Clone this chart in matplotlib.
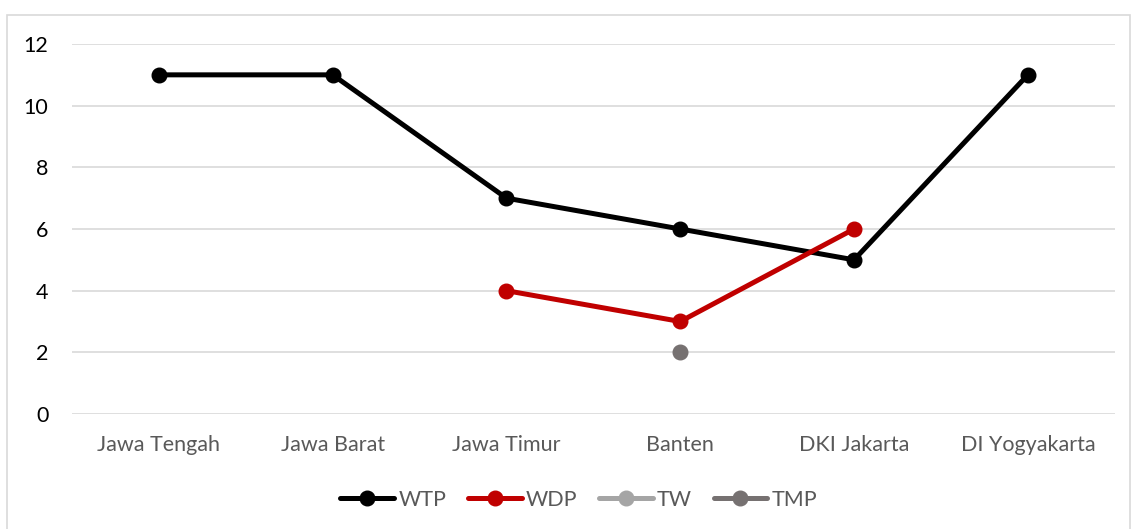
import matplotlib
matplotlib.use('Agg')
import matplotlib.pyplot as plt
import numpy as np
from matplotlib.patches import Rectangle

nan = np.nan

# data
provinces = ['Jawa Tengah', 'Jawa Barat', 'Jawa Timur', 'Banten', 'DKI Jakarta', 'DI Yogyakarta']
wtp = [11, 11, 7, 6, 5, 11]
wdp = [nan, nan, 4, 3, 6, nan]
tw = [nan, nan, nan, nan, nan, nan]
tmp = [nan, nan, nan, 2, nan, nan]

series_names = ['WTP', 'WDP', 'TW', 'TMP']
series_colors = ['#000000', '#C00000', '#A5A5A5', '#767171']

plt.rcParams['font.family'] = ['Lato', 'DejaVu Sans']

fig = plt.figure(figsize=(11.34, 5.29), dpi=100)
ax = fig.add_axes([0.0635, 0.2174, 0.9195, 0.6994])

# light frame around the whole chart
fig.patches.append(Rectangle((7 / 1134, -0.01), 1123 / 1134, 1 - 15 / 529 + 0.01,
                             transform=fig.transFigure, fill=False,
                             edgecolor='#D9D9D9', linewidth=1.2))

x = np.arange(len(provinces))
for vals, name, col in zip([wtp, wdp, tw, tmp], series_names, series_colors):
    ax.plot(x, vals, color=col, linewidth=3.6, marker='o', markersize=10.5,
            label=name, solid_capstyle='round', zorder=3)

ax.set_xlim(-0.5, len(provinces) - 0.5)
ax.set_ylim(0, 12)
ax.set_yticks(range(0, 13, 2))
ax.set_xticks(x)
ax.set_xticklabels(provinces)
ax.yaxis.grid(True, color='#D9D9D9', linewidth=1.2)
ax.set_axisbelow(True)
for s in ax.spines.values():
    s.set_visible(False)
ax.tick_params(axis='both', length=0, labelsize=15.5, labelcolor='#595959')
ax.tick_params(axis='x', pad=15)
ax.tick_params(axis='y', pad=17)
for lbl in ax.get_yticklabels():
    lbl.set_color('#000000')

ax.legend(loc='upper center', bbox_to_anchor=(0.486, -0.152), ncol=4, frameon=False,
          fontsize=15.5, labelcolor='#595959', handlelength=2.5, handletextpad=0.2,
          columnspacing=1.0)

fig.savefig('out.png', dpi=100)
